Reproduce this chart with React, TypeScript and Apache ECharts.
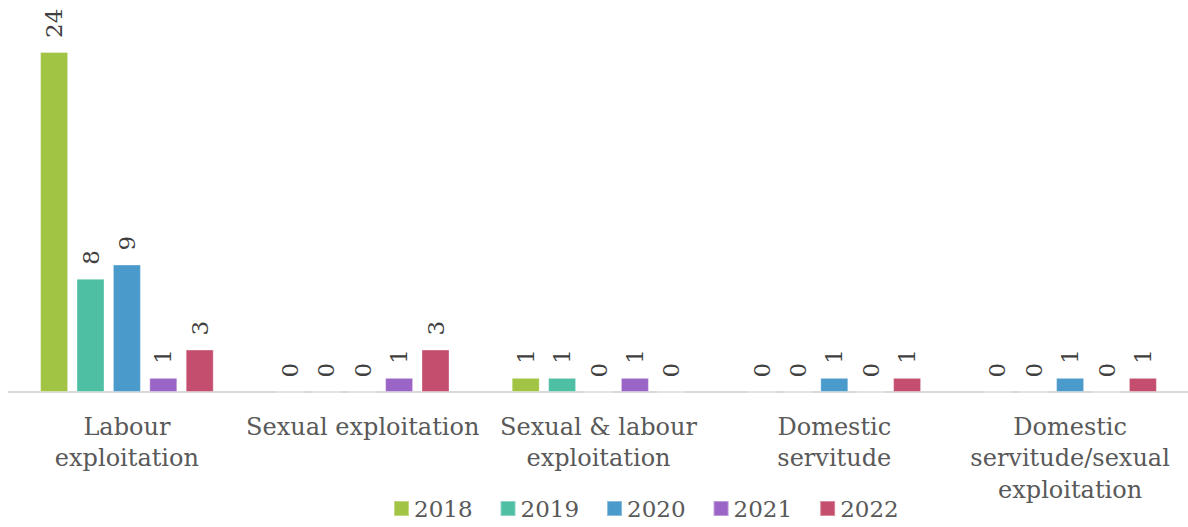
import React, { useEffect, useRef } from "react";
import * as echarts from "echarts";

const categories = [
  "Labour\nexploitation",
  "Sexual exploitation",
  "Sexual & labour\nexploitation",
  "Domestic\nservitude",
  "Domestic\nservitude/sexual\nexploitation",
];
const years = ["2018", "2019", "2020", "2021", "2022"];
const values2018 = [24, 0, 1, 0, 0];
const values2019 = [8, 0, 1, 0, 0];
const values2020 = [9, 0, 0, 1, 1];
const values2021 = [1, 1, 1, 0, 0];
const values2022 = [3, 3, 0, 1, 1];
const colors = ["#A1C444", "#4FBFA3", "#4A9ACB", "#9A65C6", "#C44E6E"];

const FONT = "DejaVu Serif";

export default function App() {
  const ref = useRef<HTMLDivElement>(null);
  useEffect(() => {
    if (!ref.current) return;
    const chart = echarts.init(ref.current, undefined, { renderer: "svg" });
    const all = [values2018, values2019, values2020, values2021, values2022];
    chart.setOption({
      animation: false,
      grid: { left: 9, top: 52, width: 1182, bottom: 135, containLabel: false },
      legend: {
        data: years,
        left: 393,
        top: 497,
        padding: 0,
        itemWidth: 15,
        itemHeight: 15,
        itemGap: 27,
        icon: "rect",
        textStyle: { fontFamily: FONT, fontSize: 23, color: "#595959" },
      },
      xAxis: {
        type: "category",
        data: categories,
        axisLine: { lineStyle: { color: "#D9D9D9", width: 2 } },
        axisTick: { show: false },
        axisLabel: {
          interval: 0,
          margin: 19,
          fontFamily: FONT,
          fontSize: 24,
          lineHeight: 31.5,
          color: "#595959",
        },
      },
      yAxis: {
        type: "value",
        min: 0,
        max: 24,
        show: false,
        splitLine: { show: false },
      },
      series: years.map((y, i) => ({
        name: y,
        type: "bar",
        data: all[i],
        barWidth: 28,
        barGap: "30%",
        itemStyle: { color: colors[i], borderColor: "rgba(255,255,255,0.35)", borderWidth: 1 },
        label: {
          show: true,
          position: "top",
          rotate: 90,
          align: "left",
          verticalAlign: "middle",
          distance: 14,
          fontFamily: FONT,
          fontSize: 23,
          color: "#404040",
        },
      })),
    });
    return () => chart.dispose();
  }, []);
  return (
    <div
      ref={ref}
      style={{ position: "fixed", left: 0, top: 0, width: 1188, height: 527, background: "#fff" }}
    />
  );
}
